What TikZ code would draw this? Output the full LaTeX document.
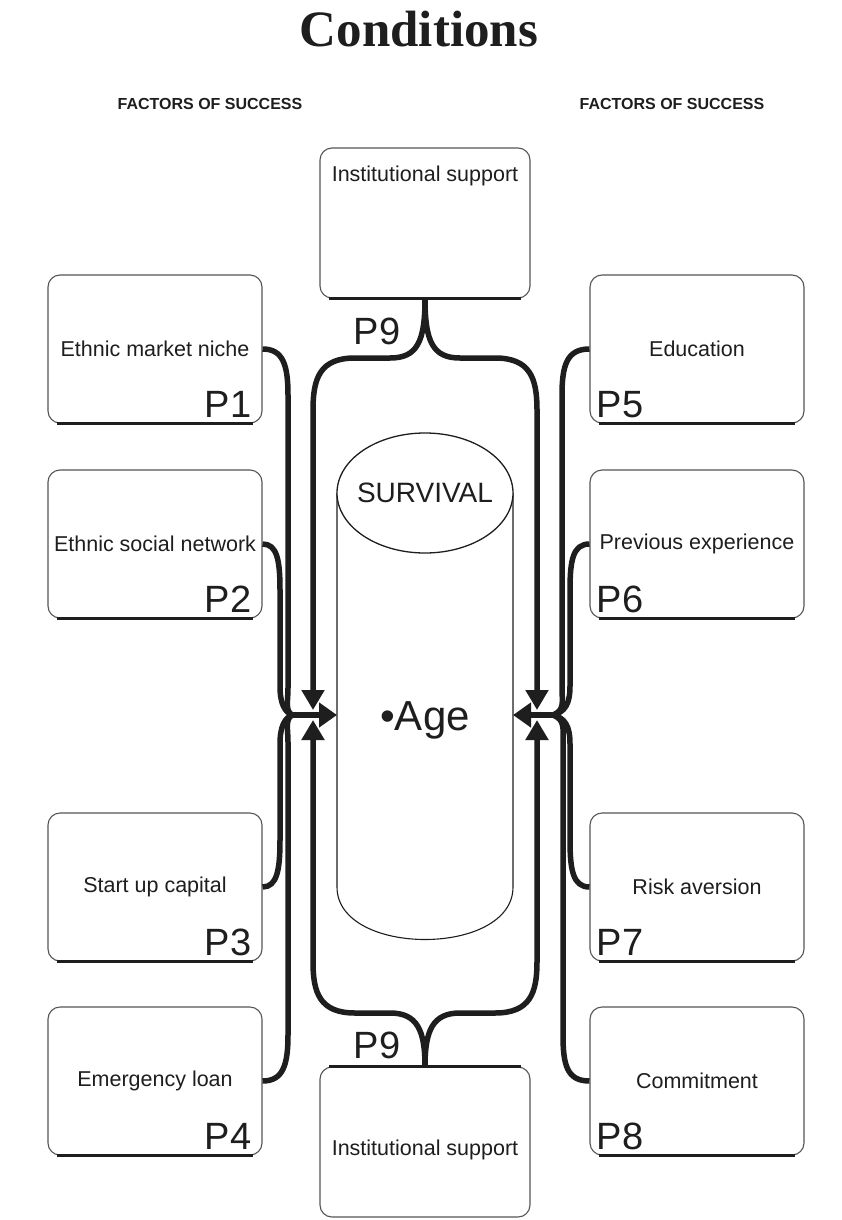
\documentclass[tikz,border=0pt]{standalone}
\usepackage{fontspec}
\setmainfont{Liberation Serif}
\setsansfont{Liberation Sans}
\usetikzlibrary{shapes.geometric,arrows.meta}
\definecolor{txt}{HTML}{1E1E1E}
\definecolor{boxgray}{HTML}{555555}
\begin{document}
\begin{tikzpicture}[x=1pt,y=-1pt,
  sidebox/.style={draw=boxgray, line width=1.1pt, rounded corners=12pt, minimum width=214pt, minimum height=148pt, inner sep=0pt, font=\sffamily\fontsize{21.5}{25}\selectfont, text=txt},
  instbox/.style={draw=boxgray, line width=1.1pt, rounded corners=12pt, minimum width=210pt, minimum height=150pt, inner sep=0pt},
  boxtext/.style={font=\sffamily\fontsize{21.5}{25}\selectfont, text=txt, inner sep=0pt},
  plab/.style={font=\sffamily\fontsize{38}{40}\selectfont, inner sep=0pt, text=txt},
  conn/.style={line width=5.5pt, draw=txt},
  edge/.style={line width=2.6pt, draw=txt},
  thin/.style={line width=1.1pt, draw=txt},
  tip/.style={-{Triangle[length=20pt,width=22pt]}},
  head/.style={font=\sffamily\bfseries\fontsize{16}{19}\selectfont, text=txt, inner sep=0pt}
]
\fill[white] (0,0) rectangle (841,1220);
\useasboundingbox (0,0) rectangle (841,1220);

% title and headers
\node[font=\bfseries\fontsize{51}{58}\selectfont, text=txt, inner sep=0pt] (title) at (419,29) {Conditions};
\node[head] (hl) at (210,104) {FACTORS OF SUCCESS};
\node[head] (hr) at (672,104) {FACTORS OF SUCCESS};

% institutional support boxes
\node[instbox] (itop) at (425,223) {};
\node[boxtext] (itopt) at (425,176) {Institutional support};
\node[instbox] (ibot) at (425,1142) {};
\node[boxtext] (ibott) at (425,1150) {Institutional support};
\draw[edge] ([xshift=10pt]itop.south west) -- ([xshift=-10pt]itop.south east);
\draw[edge] ([xshift=10pt]ibot.north west) -- ([xshift=-10pt]ibot.north east);

% side boxes
\node[sidebox] (p1) at (155,349) {Ethnic market niche};
\node[sidebox] (p2) at (155,544) {Ethnic social network};
\node[sidebox] (p3) at (155,887) {Start up capital};
\node[sidebox] (p4) at (155,1081) {Emergency loan};
\node[sidebox] (p5) at (697,349) {Education};
\node[sidebox] (p6) at (697,544) {Previous experience};
\node[sidebox] (p7) at (697,887) {Risk aversion};
\node[sidebox] (p8) at (697,1081) {Commitment};
\foreach \b in {p1,p2,p3,p4,p5,p6,p7,p8}{
  \draw[line width=2.4pt, draw=txt] ([xshift=10pt]\b.south west) -- ([xshift=-10pt]\b.south east);
}

% P labels
\node[plab, anchor=base east] (l1) at ([xshift=-11pt,yshift=6pt]p1.south east) {P1};
\node[plab, anchor=base east] (l2) at ([xshift=-11pt,yshift=6pt]p2.south east) {P2};
\node[plab, anchor=base east] (l3) at ([xshift=-11pt,yshift=6pt]p3.south east) {P3};
\node[plab, anchor=base east] (l4) at ([xshift=-11pt,yshift=6pt]p4.south east) {P4};
\node[plab, anchor=base west] (l5) at ([xshift=7pt,yshift=6pt]p5.south west) {P5};
\node[plab, anchor=base west] (l6) at ([xshift=7pt,yshift=6pt]p6.south west) {P6};
\node[plab, anchor=base west] (l7) at ([xshift=7pt,yshift=6pt]p7.south west) {P7};
\node[plab, anchor=base west] (l8) at ([xshift=7pt,yshift=6pt]p8.south west) {P8};
\node[plab] (p9t) at (377,331) {P9};
\node[plab] (p9b) at (377,1045) {P9};

% cylinder
\draw[thin] (337,493) -- (337,887) .. controls (337,957) and (513,957) .. (513,887) -- (513,493);
\draw[draw=txt, line width=1.3pt, fill=white] (425,493) ellipse [x radius=88, y radius=60];
\node[font=\sffamily\fontsize{28}{32}\selectfont, text=txt, inner sep=0pt] (surv) at (425,493) {SURVIVAL};
\node[font=\sffamily\fontsize{42}{46}\selectfont, text=txt, inner sep=0pt] (age) at (425,720) {•Age};

% coordinates
\coordinate (jl) at (292,715);
\coordinate (jr) at (553,715);
\coordinate (cl) at (337,715);
\coordinate (cr) at (513,715);
\coordinate (tl1) at (313,710);
\coordinate (tl2) at (313,720);
\coordinate (tr1) at (537,710);
\coordinate (tr2) at (537,720);

% P9 brackets
\draw[conn, tip] (itop.south) .. controls (425,342) and (417,358) .. (390,358) -- (355,358) .. controls (320,358) and (313,378) .. (313,410) -- (tl1);
\draw[conn, tip] (itop.south) .. controls (425,342) and (433,358) .. (460,358) -- (495,358) .. controls (530,358) and (537,378) .. (537,410) -- (tr1);
\draw[conn, tip] (ibot.north) .. controls (425,1030) and (417,1013) .. (390,1013) -- (355,1013) .. controls (320,1013) and (313,993) .. (313,962) -- (tl2);
\draw[conn, tip] (ibot.north) .. controls (425,1030) and (433,1013) .. (460,1013) -- (495,1013) .. controls (530,1013) and (537,993) .. (537,962) -- (tr2);

% left factor connectors
\draw[conn] (p1.east) .. controls (283,349) and (288,365) .. (288,395) -- (288,688) .. controls (288,702) and (285,710) .. (jl);
\draw[conn] (p2.east) .. controls (277,544) and (280,560) .. (280,590) -- (280,686) .. controls (280,704) and (285,712) .. (jl);
\draw[conn] (p3.east) .. controls (277,887) and (280,870) .. (280,840) -- (280,744) .. controls (280,726) and (285,718) .. (jl);
\draw[conn] (p4.east) .. controls (283,1081) and (288,1065) .. (288,1035) -- (288,742) .. controls (288,728) and (285,720) .. (jl);
\draw[conn, -{Triangle[length=18pt,width=24pt]}] (jl) -- (cl);

% right factor connectors
\draw[conn] (p5.west) .. controls (567,349) and (562,365) .. (562,395) -- (562,688) .. controls (562,702) and (565,710) .. (jr);
\draw[conn] (p6.west) .. controls (573,544) and (570,560) .. (570,590) -- (570,686) .. controls (570,704) and (565,712) .. (jr);
\draw[conn] (p7.west) .. controls (573,887) and (570,870) .. (570,840) -- (570,744) .. controls (570,726) and (565,718) .. (jr);
\draw[conn] (p8.west) .. controls (567,1081) and (563,1065) .. (563,1035) -- (563,742) .. controls (563,728) and (565,720) .. (jr);
\draw[conn, -{Triangle[length=18pt,width=24pt]}] (jr) -- (cr);
\end{tikzpicture}
\end{document}
